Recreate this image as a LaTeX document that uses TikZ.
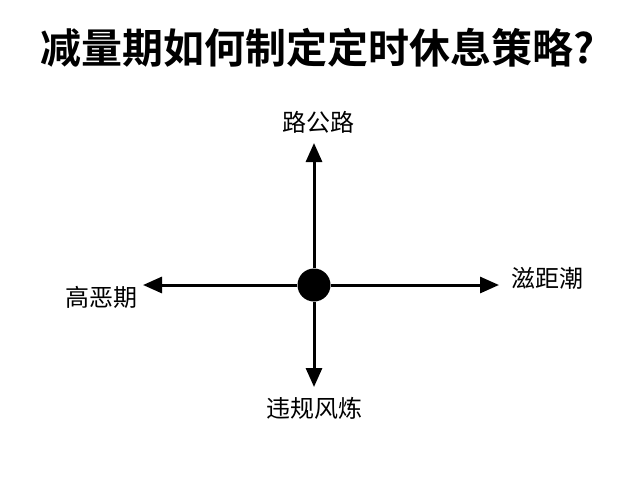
\documentclass[tikz,border=0pt]{standalone}
\usepackage{fontspec}
\usepackage{tikz}
\usetikzlibrary{arrows.meta}
\newfontfamily\cjk{Noto Sans CJK SC}
\newfontfamily\cjkbold{Noto Sans CJK SC Bold}

\tikzset{
  axis/.style={line width=3pt, -{Triangle[length=19pt,width=16pt]}},
  lbl/.style={font=\cjk\fontsize{24}{26}\selectfont, inner sep=0pt}
}

\begin{document}
\begin{tikzpicture}[x=1pt,y=-1pt]
\useasboundingbox (0,0) rectangle (640,480);

\node[font=\cjkbold\fontsize{41}{44}\selectfont, inner sep=0pt] (title) at (318,48) {减量期如何制定定时休息策略?};

\node[circle, fill=black, minimum size=33pt, inner sep=0pt] (c) at (314,285) {};

\coordinate (up) at (314,143);
\coordinate (down) at (314,387);
\coordinate (left) at (143,285);
\coordinate (right) at (499,285);

\draw[axis] (c) -- (up);
\draw[axis] (c) -- (down);
\draw[axis] (c) -- (left);
\draw[axis] (c) -- (right);

\node[lbl] (top) at (318,122) {路公路};
\node[lbl] (bot) at (314,408) {违规风炼};
\node[lbl] (lft) at (101,297) {高恶期};
\node[lbl] (rgt) at (547,278) {滋距潮};

\end{tikzpicture}
\end{document}
